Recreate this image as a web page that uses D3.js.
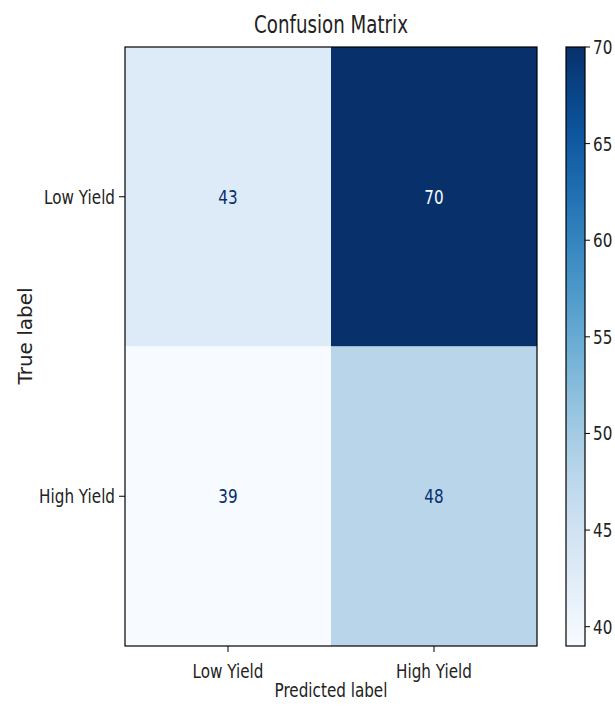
<!DOCTYPE html>
<html><head><meta charset="utf-8">
<script src="https://cdn.jsdelivr.net/npm/d3@7"></script>
<style>body{margin:0;background:#fff}</style>
</head><body>
<svg id="c" width="615" height="713"></svg>
<script>
const trueLabels = ["Low Yield", "High Yield"];
const predLabels = ["Low Yield", "High Yield"];
const counts = [[43, 70], [39, 48]];
const cbarTicks = [40, 45, 50, 55, 60, 65, 70];
const titleText = "Confusion Matrix";
const xTitle = "Predicted label";
const yTitle = "True label";

const SX = 0.76;
const FONT = "DejaVu Sans, sans-serif";
const svg = d3.select("#c");
const box = {l:125, r:537, t:47, b:646};
const cb = {l:566, r:585};

const vals = counts.flat();
const vmin = d3.min(vals), vmax = d3.max(vals);
const color = d3.scaleSequential(d3.interpolateBlues).domain([vmin, vmax]);

const x = d3.scaleBand().domain(predLabels).range([box.l, box.r]);
const y = d3.scaleBand().domain(trueLabels).range([box.t, box.b]);

function txt(px, py, s, size, anchor, fill, rot, sx) {
  const k = sx === undefined ? SX : sx;
  return svg.append("text")
    .attr("transform", `translate(${px},${py}) scale(${k},1)` + (rot ? ` rotate(${rot})` : ""))
    .attr("text-anchor", anchor).attr("font-family", FONT)
    .attr("font-size", size).attr("fill", fill).text(s);
}

// cells
const cells = [];
trueLabels.forEach((t, i) => predLabels.forEach((p, j) => cells.push({t, p, v: counts[i][j]})));
svg.selectAll("rect.cell").data(cells).join("rect").attr("class", "cell")
  .attr("x", d => x(d.p)).attr("y", d => y(d.t))
  .attr("width", x.bandwidth()).attr("height", y.bandwidth())
  .attr("fill", d => color(d.v));
const thresh = (vmin + vmax) / 2;
cells.forEach(d => {
  txt(x(d.p) + x.bandwidth()/2, y(d.t) + y.bandwidth()/2 + 7, d.v, 20, "middle",
      d.v > thresh ? color(vmin) : color(vmax));
});
svg.append("rect").attr("x", box.l).attr("y", box.t)
  .attr("width", box.r - box.l).attr("height", box.b - box.t)
  .attr("fill", "none").attr("stroke", "#000").attr("stroke-width", 1.2);

// axis ticks
predLabels.forEach(p => {
  const cx = x(p) + x.bandwidth()/2;
  svg.append("line").attr("x1", cx).attr("x2", cx).attr("y1", box.b).attr("y2", box.b + 6)
    .attr("stroke", "#000").attr("stroke-width", 1);
  txt(cx, 678, p, 20, "middle", "#222");
});
trueLabels.forEach(t => {
  const cy = y(t) + y.bandwidth()/2;
  svg.append("line").attr("x1", box.l - 6).attr("x2", box.l).attr("y1", cy).attr("y2", cy)
    .attr("stroke", "#000").attr("stroke-width", 1);
  txt(box.l - 10, cy + 7, t, 20, "end", "#222");
});

txt((box.l + box.r)/2, 33, titleText, 24, "middle", "#222");
txt((box.l + box.r)/2, 697, xTitle, 20, "middle", "#222");
txt(32, 336, yTitle, 20, "middle", "#222", -90, 1);

// colorbar
const cy = d3.scaleLinear().domain([vmin, vmax]).range([box.b, box.t]);
const grad = svg.append("defs").append("linearGradient").attr("id", "g")
  .attr("x1", 0).attr("y1", 1).attr("x2", 0).attr("y2", 0);
d3.range(0, 1.0001, 0.05).forEach(f => grad.append("stop")
  .attr("offset", f).attr("stop-color", d3.interpolateBlues(f)));
svg.append("rect").attr("x", cb.l).attr("y", box.t).attr("width", cb.r - cb.l)
  .attr("height", box.b - box.t).attr("fill", "url(#g)")
  .attr("stroke", "#000").attr("stroke-width", 1.2);
cbarTicks.forEach(v => {
  svg.append("line").attr("x1", cb.r).attr("x2", cb.r + 5).attr("y1", cy(v)).attr("y2", cy(v))
    .attr("stroke", "#000").attr("stroke-width", 1);
  txt(cb.r + 8, cy(v) + 7, v, 20, "start", "#222");
});
</script>
</body></html>
